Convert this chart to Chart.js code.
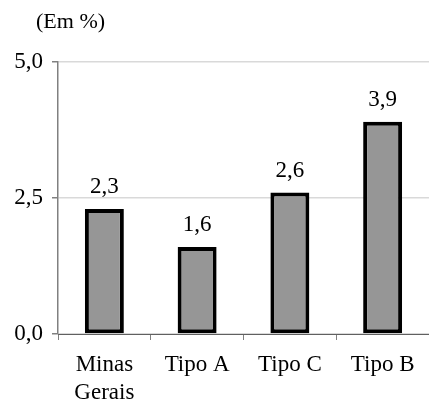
<!DOCTYPE html>
<html>
<head>
<meta charset="utf-8">
<script src="https://cdn.jsdelivr.net/npm/chart.js@4/dist/chart.umd.min.js"></script>
<style>
  html, body { margin: 0; padding: 0; background: #fff; }
  #wrap { width: 429px; height: 403px; }
</style>
</head>
<body>
<div id="wrap"><canvas id="chart"></canvas></div>
<script>
const categories = [['Minas', 'Gerais'], 'Tipo A', 'Tipo C', 'Tipo B'];
const values = [2.3, 1.6, 2.6, 3.9];
const yTicks = [0, 2.5, 5];
const unitLabel = '(Em %)';

const serif = 'Liberation Serif, Times New Roman, serif';

function fmt(v) {
    return v.toFixed(1).replace('.', ',');
}

// labels above each bar + unit label in the top left corner
const labelsPlugin = {
    id: 'labels',
    afterDatasetsDraw(chart) {
        const ctx = chart.ctx;
        ctx.save();
        ctx.fillStyle = '#000';
        ctx.font = '23px ' + serif;
        ctx.textAlign = 'center';
        ctx.textBaseline = 'alphabetic';
        chart.getDatasetMeta(0).data.forEach((bar, i) => {
            ctx.fillText(fmt(values[i]), bar.x, bar.y - 16);
        });
        ctx.font = '22px ' + serif;
        ctx.textAlign = 'left';
        ctx.textBaseline = 'middle';
        ctx.fillText(unitLabel, chart.chartArea.left - 22, 22);
        ctx.restore();
    }
};

const ctx = document.getElementById('chart').getContext('2d');
new Chart(ctx, {
    type: 'bar',
    data: {
        labels: categories,
        datasets: [{
            data: values,
            backgroundColor: '#969696',
            borderColor: '#000',
            borderWidth: 4,
            borderSkipped: false,
            categoryPercentage: 1,
            barPercentage: 0.42
        }]
    },
    options: {
        responsive: true,
        maintainAspectRatio: false,
        animation: false,
        layout: { padding: { top: 62, right: 0, bottom: 0, left: 0 } },
        plugins: {
            legend: { display: false },
            tooltip: { enabled: false }
        },
        scales: {
            x: {
                offset: true,
                afterFit(scale) { scale.height = 69; },
                grid: {
                    offset: true,
                    drawOnChartArea: false,
                    tickLength: 6,
                    tickColor: '#808080'
                },
                border: { color: '#606060', width: 1 },
                ticks: {
                    color: '#000',
                    padding: 11,
                    font: { family: serif, size: 23, lineHeight: 1.22 }
                }
            },
            y: {
                min: 0,
                max: 5,
                afterFit(scale) { scale.width = 58; },
                afterBuildTicks(scale) {
                    scale.ticks = yTicks.map(v => ({ value: v }));
                },
                grid: {
                    color: '#d9d9d9',
                    lineWidth: 1.5,
                    tickLength: 6,
                    tickColor: '#808080'
                },
                border: { color: '#808080', width: 1.5 },
                ticks: {
                    color: '#000',
                    padding: 9,
                    font: { family: serif, size: 23 },
                    callback: v => fmt(v)
                }
            }
        }
    },
    plugins: [labelsPlugin]
});
</script>
</body>
</html>
